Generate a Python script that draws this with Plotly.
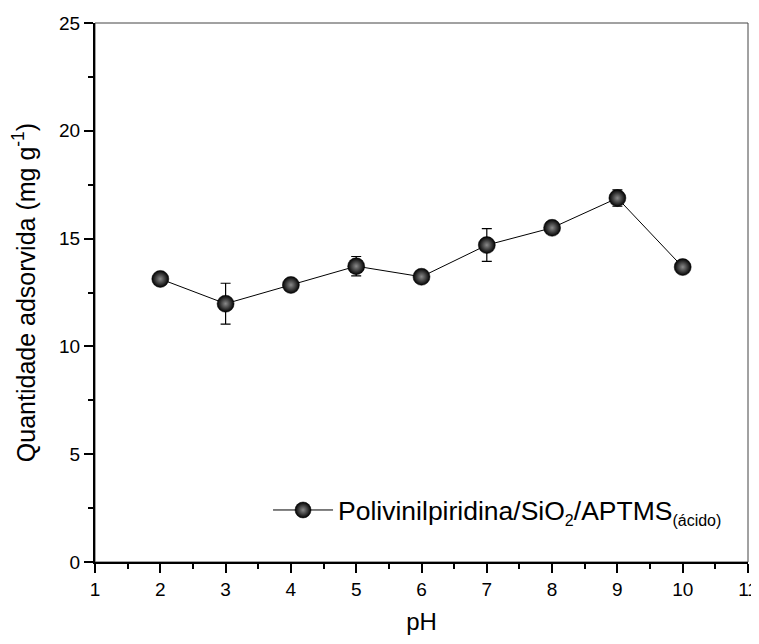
import plotly.graph_objects as go

ph = [2, 3, 4, 5, 6, 7, 8, 9, 10]
quantidade = [13.13, 11.98, 12.85, 13.72, 13.23, 14.70, 15.50, 16.88, 13.68]
erro = [0.18, 0.95, 0.15, 0.45, 0.12, 0.76, 0.12, 0.38, 0.12]

x_ticks = list(range(1, 12))
y_ticks = [0, 5, 10, 15, 20, 25]

FONT = "Liberation Sans, Arial, sans-serif"

serie_nome = (
    "Polivinilpiridina/SiO<sub><span style='font-size:16px'>2</span></sub>/APTMS"
    "<sub><span style='font-size:16px'>(ácido)</span></sub>"
)

fig = go.Figure()
fig.add_trace(
    go.Scatter(
        x=ph,
        y=quantidade,
        mode="lines+markers",
        name=serie_nome,
        line={"color": "black", "width": 1},
        marker={
            "size": 17,
            "color": "#000000",
            "line": {"color": "black", "width": 0.5},
            "gradient": {"type": "radial", "color": "#8a8a8a"},
        },
        error_y={"type": "data", "array": erro, "color": "black", "thickness": 1.2, "width": 5},
    )
)

axis_common = dict(
    showgrid=False,
    zeroline=False,
    showline=True,
    linecolor="black",
    linewidth=2,
    ticks="outside",
    ticklen=9,
    tickwidth=2,
    tickcolor="black",
    automargin=False,
    tickfont={"family": FONT, "size": 19, "color": "black"},
)

fig.update_xaxes(
    range=[1, 11],
    tickvals=x_ticks,
    minor={"dtick": 0.5, "ticks": "outside", "ticklen": 5, "tickwidth": 2, "tickcolor": "black"},
    title={"text": "pH", "font": {"family": FONT, "size": 24, "color": "black"}, "standoff": 14},
    **axis_common,
)
fig.update_yaxes(
    range=[0, 25],
    tickvals=y_ticks,
    minor={"dtick": 2.5, "ticks": "outside", "ticklen": 5, "tickwidth": 2, "tickcolor": "black"},
    title={
        "text": "Quantidade adsorvida (mg g<sup>-1</sup>)",
        "font": {"family": FONT, "size": 25, "color": "black"},
        "standoff": 18,
    },
    **axis_common,
)

fig.add_shape(
    type="rect",
    xref="x domain",
    yref="y domain",
    x0=0,
    x1=1,
    y0=0,
    y1=1,
    line={"color": "#444", "width": 1},
    layer="below",
)

# page body adds an 8px offset, so the figure is shrunk by that much
fig.update_layout(
    width=751,
    height=636,
    margin={"l": 87, "r": 11, "t": 15, "b": 82, "autoexpand": False},
    plot_bgcolor="white",
    paper_bgcolor="white",
    font={"family": FONT, "color": "black"},
    showlegend=True,
    legend={
        "x": 0.265,
        "y": 0.096,
        "xanchor": "left",
        "yanchor": "middle",
        "itemwidth": 60,
        "bgcolor": "rgba(0,0,0,0)",
        "font": {"family": FONT, "size": 26.5, "color": "black"},
    },
)

fig.write_html("out.html")
